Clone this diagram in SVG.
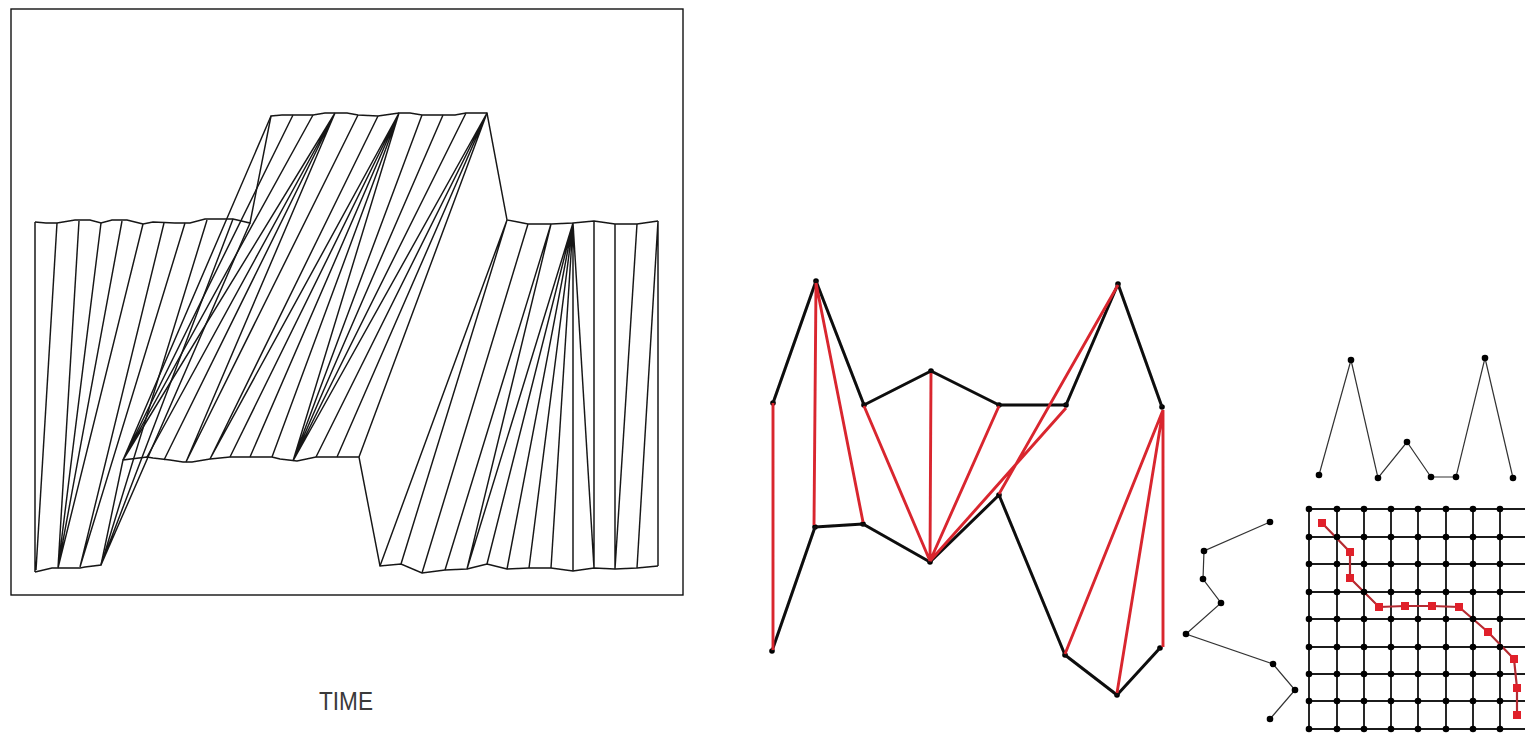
<svg xmlns="http://www.w3.org/2000/svg" width="1525" height="734" viewBox="0 0 1525 734">
<style>
.w{fill:none;stroke:#161616;stroke-width:1.45}
.k{fill:none;stroke:#0a0a0a;stroke-width:3;stroke-linejoin:round}
.r{fill:none;stroke:#d9252f;stroke-width:2.9}
.t{fill:none;stroke:#333;stroke-width:1.2}
.g{fill:none;stroke:#1c1c1c;stroke-width:1.9}
.gr{fill:none;stroke:#b32a30;stroke-width:2.2}
text{font-family:"Liberation Sans",Arial,sans-serif;fill:#3a3a3a}
</style>
<defs>
<filter id="soft" x="-2%" y="-2%" width="104%" height="104%"><feGaussianBlur stdDeviation="0.35"/></filter>
<circle id="d" r="3.300" fill="#000"/>
<rect id="s" x="-4" y="-4" width="8" height="8" fill="#e0202a"/>
</defs>
<rect width="1525" height="734" fill="#fff"/>
<g id="warping-chart" filter="url(#soft)">
<rect x="11" y="9" width="672" height="586" fill="none" stroke="#111" stroke-width="1.4"/>
<path class="w" d="M35 222L46 223 57 223 75 220 90 220 101 223 112 220 127 220 143 224 153 222 175 223 190 223 205 219 233 219 250 223 271 116 282 115 313 115 325 113 347 113 358 115 378 116 399 113 410 113 422 115 455 115 466 113 487 113 507 220 518 222 528 224 551 224 573 223 594 221 615 224 637 224 658 221"/>
<path class="w" d="M35 572L52 568 80 568 85 567 101 565 123 460 147 457 153 458 170 460 183 462 192 462 210 459 230 457 272 457 280 459 297 461 316 457 359 457 380 566 401 564 422 573 445 570 467 569 487 564 507 569 529 568 551 568 573 571 594 568 615 569 637 568 658 566"/>
<path class="w" d="M35 222L35 572M57 223L36 570M79 221L58 568M101 223L58 568M122 221L58 568M143 224L58 568M164 223L80 567M185 223L80 567M207 220L101 565M233 219L101 565M250 223L101 565"/>
<path class="w" d="M271 116L123 460M293 115L123 460M313 115L123 460M335 113L123 460M335 113L147 457M335 113L164 460M335 113L186 462M358 115L186 462M378 116L210 459M399 113L210 459M399 113L230 457M399 113L250 457M399 113L272 457M399 113L293 461M422 115L293 461M443 115L293 461M466 113L293 461M487 113L293 461M487 113L316 457M487 113L337 457M487 113L359 457"/>
<path class="w" d="M507 220L380 566M507 220L401 564M528 224L422 573M551 224L445 570M551 224L467 569M573 223L467 569M573 223L487 564M573 223L507 569M573 223L529 568M573 223L551 568M573 223L573 571M573 223L594 568M594 221L594 568M615 224L615 569M637 224L615 569M658 221L637 568M658 221L658 566"/>
</g>
<text id="time-label" x="346" y="710" text-anchor="middle" font-size="26" textLength="54" lengthAdjust="spacingAndGlyphs">TIME</text>
<g id="big-nodes" fill="#000">
<circle cx="773" cy="403" r="2.800"/><circle cx="816" cy="281" r="2.800"/><circle cx="864" cy="405" r="2.800"/><circle cx="931" cy="371" r="2.800"/><circle cx="999" cy="405" r="2.800"/><circle cx="1066" cy="405" r="2.800"/><circle cx="1118" cy="284" r="2.800"/><circle cx="1162" cy="407" r="2.800"/>
<circle cx="772" cy="651" r="2.800"/><circle cx="815" cy="527" r="2.800"/><circle cx="863" cy="524" r="2.800"/><circle cx="930" cy="562" r="2.800"/><circle cx="999" cy="495" r="2.800"/><circle cx="1065" cy="655" r="2.800"/><circle cx="1117" cy="695" r="2.800"/><circle cx="1160" cy="648" r="2.800"/>
</g>
<g id="connectors" filter="url(#soft)">
<path class="k" d="M773 403L816 281 864 405 931 371 999 405 1066 405 1118 284 1162 407"/>
<path class="k" d="M772 651L815 527 863 524 930 562 999 495 1065 655 1117 695 1160 648"/>
<path class="r" d="M773 403L773 650M816 283L814 525M816 283L863 522M864 406L930 561M931 373L930 561M999 406L930 561M1066 408L930 561M1118 285L999 494M1163 410L1065 654M1163 410L1117 693M1163 410L1163 647"/>
<path class="t" d="M1319 475L1351 360 1378 478 1407 442 1431 477 1456 477 1485 358 1513 478"/>
<path class="t" d="M1270 522L1204 551 1203 579 1221 603 1186 634 1273 664 1295 690 1270 719"/>
<path class="g" d="M1309 509H1525M1309 537H1525M1309 564H1525M1309 592H1525M1309 619H1525M1309 647H1525M1309 674H1525M1309 701H1525M1309 729H1525M1309 509V729M1337 509V729M1364 509V729M1391 509V729M1418 509V729M1446 509V729M1473 509V729M1500 509V729"/>
<path class="gr" d="M1322 523L1350 552 1350 578 1379 607 1405 606 1432 606 1459 607 1488 632 1514 659 1517 688 1517 715"/>
</g>
<g id="top-sequence">
<use href="#d" x="1319" y="475"/><use href="#d" x="1351" y="360"/><use href="#d" x="1378" y="478"/><use href="#d" x="1407" y="442"/><use href="#d" x="1431" y="477"/><use href="#d" x="1456" y="477"/><use href="#d" x="1485" y="358"/><use href="#d" x="1513" y="478"/>
</g>
<g id="left-sequence">
<use href="#d" x="1270" y="522"/><use href="#d" x="1204" y="551"/><use href="#d" x="1203" y="579"/><use href="#d" x="1221" y="603"/><use href="#d" x="1186" y="634"/><use href="#d" x="1273" y="664"/><use href="#d" x="1295" y="690"/><use href="#d" x="1270" y="719"/>
</g>
<g id="grid-nodes">
<use href="#d" x="1309" y="509"/><use href="#d" x="1337" y="509"/><use href="#d" x="1364" y="509"/><use href="#d" x="1391" y="509"/><use href="#d" x="1418" y="509"/><use href="#d" x="1446" y="509"/><use href="#d" x="1473" y="509"/><use href="#d" x="1500" y="509"/>
<use href="#d" x="1309" y="537"/><use href="#d" x="1337" y="537"/><use href="#d" x="1364" y="537"/><use href="#d" x="1391" y="537"/><use href="#d" x="1418" y="537"/><use href="#d" x="1446" y="537"/><use href="#d" x="1473" y="537"/><use href="#d" x="1500" y="537"/>
<use href="#d" x="1309" y="564"/><use href="#d" x="1337" y="564"/><use href="#d" x="1364" y="564"/><use href="#d" x="1391" y="564"/><use href="#d" x="1418" y="564"/><use href="#d" x="1446" y="564"/><use href="#d" x="1473" y="564"/><use href="#d" x="1500" y="564"/>
<use href="#d" x="1309" y="592"/><use href="#d" x="1337" y="592"/><use href="#d" x="1364" y="592"/><use href="#d" x="1391" y="592"/><use href="#d" x="1418" y="592"/><use href="#d" x="1446" y="592"/><use href="#d" x="1473" y="592"/><use href="#d" x="1500" y="592"/>
<use href="#d" x="1309" y="619"/><use href="#d" x="1337" y="619"/><use href="#d" x="1364" y="619"/><use href="#d" x="1391" y="619"/><use href="#d" x="1418" y="619"/><use href="#d" x="1446" y="619"/><use href="#d" x="1473" y="619"/><use href="#d" x="1500" y="619"/>
<use href="#d" x="1309" y="647"/><use href="#d" x="1337" y="647"/><use href="#d" x="1364" y="647"/><use href="#d" x="1391" y="647"/><use href="#d" x="1418" y="647"/><use href="#d" x="1446" y="647"/><use href="#d" x="1473" y="647"/><use href="#d" x="1500" y="647"/>
<use href="#d" x="1309" y="674"/><use href="#d" x="1337" y="674"/><use href="#d" x="1364" y="674"/><use href="#d" x="1391" y="674"/><use href="#d" x="1418" y="674"/><use href="#d" x="1446" y="674"/><use href="#d" x="1473" y="674"/><use href="#d" x="1500" y="674"/>
<use href="#d" x="1309" y="701"/><use href="#d" x="1337" y="701"/><use href="#d" x="1364" y="701"/><use href="#d" x="1391" y="701"/><use href="#d" x="1418" y="701"/><use href="#d" x="1446" y="701"/><use href="#d" x="1473" y="701"/><use href="#d" x="1500" y="701"/>
<use href="#d" x="1309" y="729"/><use href="#d" x="1337" y="729"/><use href="#d" x="1364" y="729"/><use href="#d" x="1391" y="729"/><use href="#d" x="1418" y="729"/><use href="#d" x="1446" y="729"/><use href="#d" x="1473" y="729"/><use href="#d" x="1500" y="729"/>
</g>
<g id="warp-path">
<use href="#s" x="1322" y="523"/><use href="#s" x="1350" y="552"/><use href="#s" x="1350" y="578"/><use href="#s" x="1379" y="607"/><use href="#s" x="1405" y="606"/><use href="#s" x="1432" y="606"/><use href="#s" x="1459" y="607"/><use href="#s" x="1488" y="632"/><use href="#s" x="1514" y="659"/><use href="#s" x="1517" y="688"/><use href="#s" x="1517" y="715"/>
</g>
</svg>
